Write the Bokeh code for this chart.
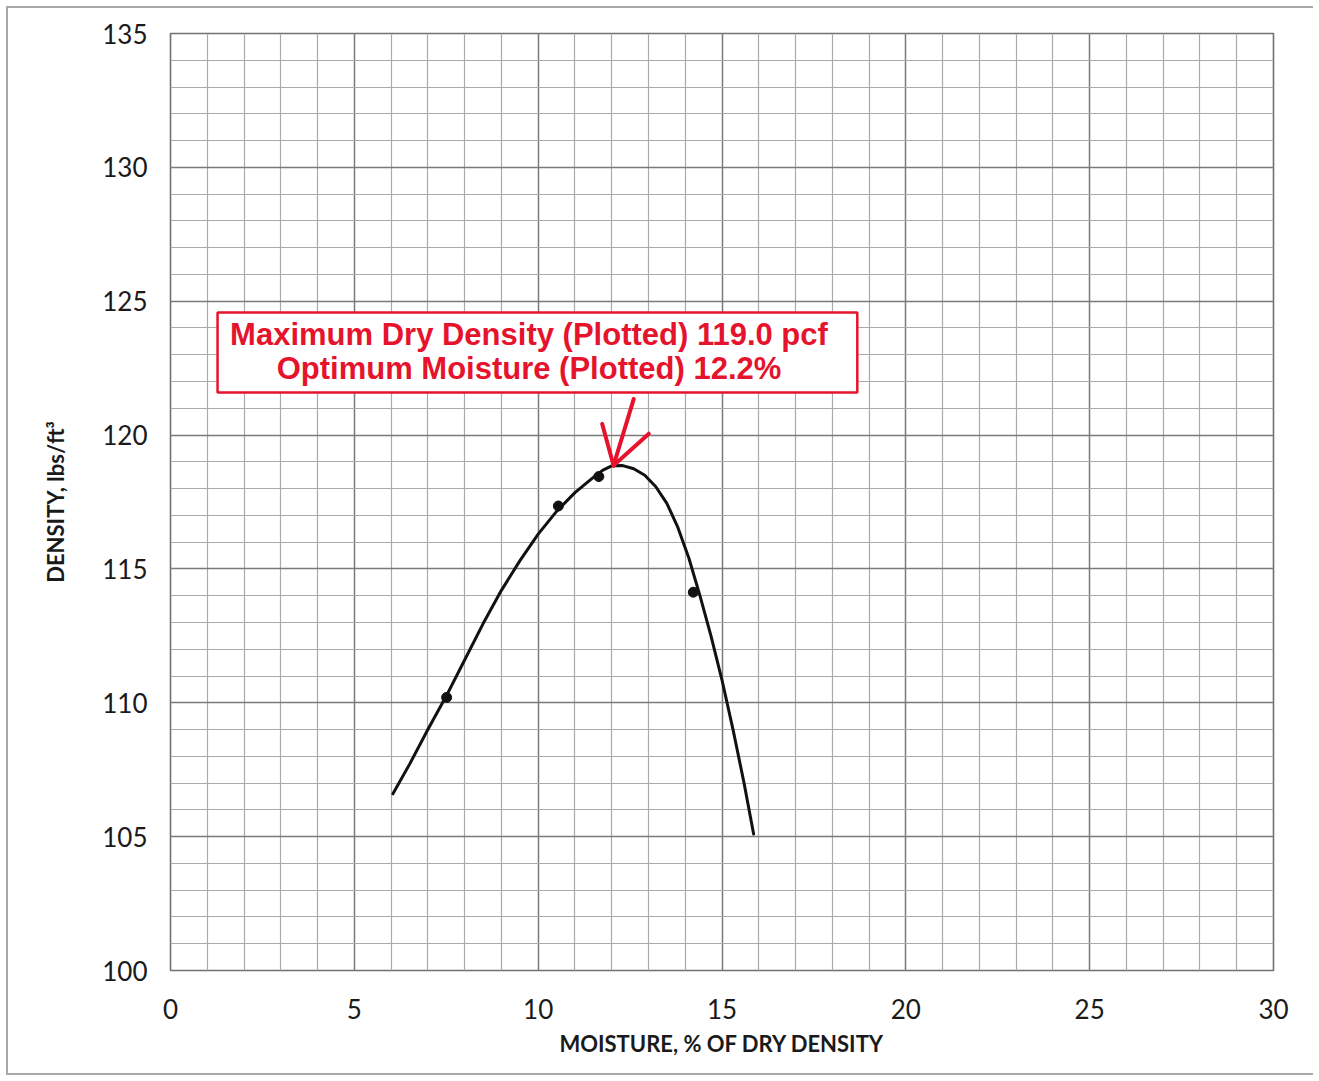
from bokeh.plotting import figure
from bokeh.models import FixedTicker, Range1d
from bokeh.core.properties import value
from bokeh.embed import file_html
from bokeh.resources import INLINE

# ---- data ----
x_ticks = [0, 5, 10, 15, 20, 25, 30]
x_tick_labels = ["0", "5", "10", "15", "20", "25", "30"]
y_ticks = [100, 105, 110, 115, 120, 125, 130, 135]
y_tick_labels = ["100", "105", "110", "115", "120", "125", "130", "135"]
x_minor = list(range(0, 31))
y_minor = list(range(100, 136))

# measured points (moisture %, dry density pcf)
point_moisture = [7.51, 10.55, 11.65, 14.22]
point_density = [110.2, 117.35, 118.45, 114.13]

# hand-drawn compaction curve, traced
curve_moisture = [6.05, 6.5, 7.0, 7.5, 8.0, 8.5, 9.0, 9.5, 10.0, 10.5,
                  11.0, 11.5, 11.75, 12.0, 12.3, 12.6, 12.9, 13.2, 13.5,
                  13.8, 14.1, 14.4, 14.7, 15.0, 15.3, 15.6, 15.86]
curve_density = [106.6, 107.7, 109.0, 110.25, 111.6, 112.95, 114.2, 115.3, 116.3,
                 117.15, 117.85, 118.42, 118.68, 118.85, 118.86, 118.74, 118.5,
                 118.07, 117.45, 116.55, 115.4, 114.0, 112.5, 110.85, 109.0,
                 107.0, 105.1]

max_dry_density = 119.0
optimum_moisture = 12.2
note_lines = [f"Maximum Dry Density (Plotted) {max_dry_density:.1f} pcf",
              f"Optimum Moisture (Plotted) {optimum_moisture:.1f}%"]

# ---- layout / style ----
RED = "#e5142c"
TICK_FONT = "Lato"

p = figure(frame_width=1103, frame_height=937,
           x_range=Range1d(0, 30), y_range=Range1d(100, 135),
           output_backend="svg", toolbar_location=None,
           min_border_left=162, min_border_right=40,
           min_border_top=25, min_border_bottom=103,
           background_fill_color="white", border_fill_color="white")
p.styles = {"margin-left": "6px", "margin-top": "6px",
            "border-left": "2px solid #a8a8a8",
            "border-top": "2px solid #a8a8a8",
            "border-bottom": "2px solid #a8a8a8"}

for ax, ticks, minor, labels in ((p.xaxis[0], x_ticks, x_minor, x_tick_labels),
                                 (p.yaxis[0], y_ticks, y_minor, y_tick_labels)):
    ax.ticker = FixedTicker(ticks=ticks, minor_ticks=minor)
    ax.major_label_overrides = {t: l for t, l in zip(ticks, labels)}
    ax.axis_line_color = None
    ax.major_tick_line_color = None
    ax.minor_tick_line_color = None
    ax.major_label_text_font = TICK_FONT
    ax.major_label_text_font_size = "26px"
    ax.major_label_text_color = "#1a1a1a"
    ax.axis_label_text_font = TICK_FONT
    ax.axis_label_text_font_style = "bold"
    ax.axis_label_text_font_size = "22px"
    ax.axis_label_text_color = "#1a1a1a"

p.xaxis.axis_label = "MOISTURE, % OF DRY DENSITY"
p.yaxis.axis_label = "DENSITY, lbs/ft\u00b3"
p.xaxis.major_label_standoff = 22
p.xaxis.axis_label_standoff = 8
p.yaxis.major_label_standoff = 17
p.yaxis.axis_label_standoff = 30

for g in (p.xgrid[0], p.ygrid[0]):
    g.grid_line_color = "#7a7a7a"
    g.grid_line_width = 1.4
    g.minor_grid_line_color = "#aaaaaa"
    g.minor_grid_line_width = 1.2

p.outline_line_color = "#707070"
p.outline_line_width = 1.6

# curve and points
p.line(curve_moisture, curve_density, line_color="#111111", line_width=3,
       line_join="round", line_cap="round")
p.scatter(point_moisture, point_density, size=10, marker="circle",
          fill_color="#111111", line_color="#111111")

# callout box
box_left, box_right, box_top, box_bottom = 1.28, 18.68, 124.58, 121.59
p.quad(left=[box_left], right=[box_right], top=[box_top], bottom=[box_bottom],
       fill_color="white", line_color=RED, line_width=2.5)
text_x = 9.75
p.text(x=[text_x, text_x], y=[123.76, 122.49], text=note_lines,
       text_font=value("Liberation Sans"), text_font_style="bold",
       text_font_size="31px", text_color=RED,
       text_align="center", text_baseline="middle")

# arrow pointing at curve peak
tip_x, tip_y = 12.05, 118.86
p.segment(x0=[12.60, 11.74, 13.01], y0=[121.35, 120.42, 120.05],
          x1=[tip_x] * 3, y1=[tip_y] * 3,
          line_color=RED, line_width=4, line_cap="round")

open("out.html", "w").write(file_html(p, INLINE))
